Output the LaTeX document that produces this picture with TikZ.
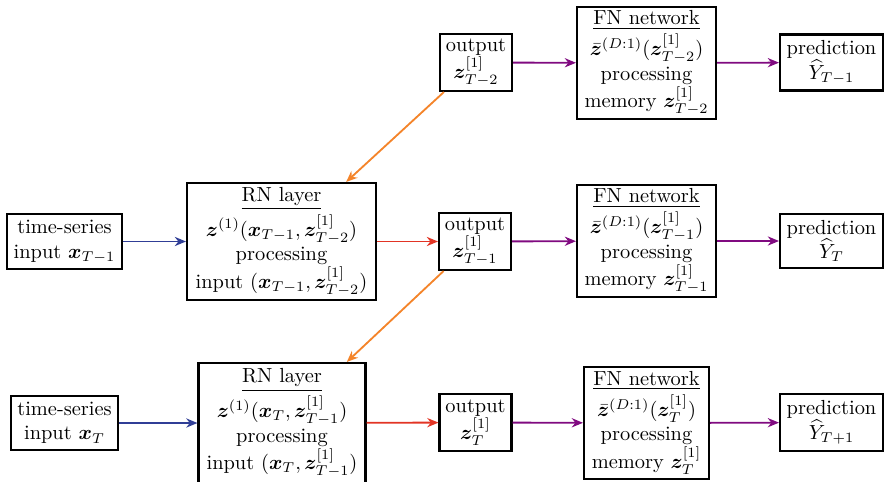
\documentclass[tikz,border=0pt]{standalone}
\usepackage{amsmath,bm}
\usetikzlibrary{arrows.meta}
\definecolor{inblue}{RGB}{48,62,150}
\definecolor{rnred}{RGB}{226,52,36}
\definecolor{recorange}{RGB}{244,132,42}
\definecolor{fnpurple}{RGB}{128,10,128}
\begin{document}
\begin{tikzpicture}[x=0.49pt,y=-0.49pt,
  box/.style={draw, line width=1pt, align=center, inner sep=2pt},
  sz/.style 2 args={minimum width=#1*0.49pt, minimum height=#2*0.49pt},
  flow/.style={line width=0.9pt, -{Stealth[length=5.5pt,width=4.5pt]}},
  inarr/.style={flow, inblue},
  rnarr/.style={flow, rnred},
  recarr/.style={flow, recorange},
  fnarr/.style={flow, fnpurple}]
\useasboundingbox (0,0) rectangle (885,481);

% row T-2 (upper)
\node[box, sz={72}{57}] (out1) at (476,62.5)
  {output\\ $\bm{z}^{[1]}_{T-2}$};
\node[box, sz={139}{112}] (fn1) at (646.5,63)
  {\underline{FN network}\\[1.5pt] $\bar{\bm{z}}^{(D:1)}(\bm{z}^{[1]}_{T-2})$\\ processing\\ memory $\bm{z}^{[1]}_{T-2}$};
\node[box, sz={103}{56}] (pred1) at (831.5,62.5)
  {prediction\\ $\widehat{Y}_{T-1}$};

% row T-1 (middle)
\node[box, sz={115}{55}] (ts2) at (64.5,241.5)
  {time-series\\ input $\bm{x}_{T-1}$};
\node[box, sz={189}{117}] (rn2) at (281.5,241.5)
  {\underline{RN layer}\\[1.5pt] $\bm{z}^{(1)}(\bm{x}_{T-1},\bm{z}^{[1]}_{T-2})$\\ processing\\ input $(\bm{x}_{T-1},\bm{z}^{[1]}_{T-2})$};
\node[box, sz={72}{57}] (out2) at (475,241.5)
  {output\\ $\bm{z}^{[1]}_{T-1}$};
\node[box, sz={139}{112}] (fn2) at (646.5,241)
  {\underline{FN network}\\[1.5pt] $\bar{\bm{z}}^{(D:1)}(\bm{z}^{[1]}_{T-1})$\\ processing\\ memory $\bm{z}^{[1]}_{T-1}$};
\node[box, sz={103}{54}] (pred2) at (831.5,241)
  {prediction\\ $\widehat{Y}_{T}$};

% row T (lower)
\node[box, sz={107}{54}] (ts3) at (64.5,423)
  {time-series\\ input $\bm{x}_{T}$};
\node[box, sz={167}{120}] (rn3) at (282,423)
  {\underline{RN layer}\\[1.5pt] $\bm{z}^{(1)}(\bm{x}_{T},\bm{z}^{[1]}_{T-1})$\\ processing\\ input $(\bm{x}_{T},\bm{z}^{[1]}_{T-1})$};
\node[box, sz={72}{57}] (out3) at (475.5,422.5)
  {output\\ $\bm{z}^{[1]}_{T}$};
\node[box, sz={125}{111}] (fn3) at (646.5,423)
  {\underline{FN network}\\[1.5pt] $\bar{\bm{z}}^{(D:1)}(\bm{z}^{[1]}_{T})$\\ processing\\ memory $\bm{z}^{[1]}_{T}$};
\node[box, sz={103}{57}] (pred3) at (831.5,422.5)
  {prediction\\ $\widehat{Y}_{T+1}$};

% connectors
\draw[fnarr] (out1) -- (fn1);
\draw[fnarr] (fn1) -- (pred1);
\draw[recarr] (out1) -- (rn2);

\draw[inarr] (ts2) -- (rn2);
\draw[rnarr] (rn2) -- (out2);
\draw[fnarr] (out2) -- (fn2);
\draw[fnarr] (fn2) -- (pred2);
\draw[recarr] (out2) -- (rn3);

\draw[inarr] (ts3) -- (rn3);
\draw[rnarr] (rn3) -- (out3);
\draw[fnarr] (out3) -- (fn3);
\draw[fnarr] (fn3) -- (pred3);
\end{tikzpicture}
\end{document}
